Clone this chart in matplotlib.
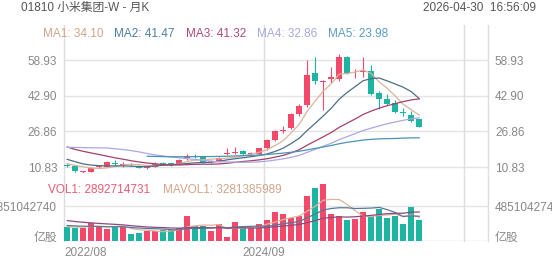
import numpy as np
import pandas as pd
import matplotlib
matplotlib.use("Agg")
import matplotlib.pyplot as plt

plt.rcParams['font.family'] = ['Liberation Sans', 'Noto Sans CJK SC', 'DejaVu Sans']

# monthly candles 2022/08 .. 2026/04
opens = [11.9, 11.3, 8.5, 8.8, 10.7, 11.0, 12.6, 11.9, 12.2, 11.3,
         10.4, 10.9, 12.4, 12.3, 12.2, 15.0, 15.9, 15.5, 13.0, 13.5,
         16.8, 17.1, 18.0, 16.6, 16.9, 19.3, 22.9, 27.2, 28.5, 34.6,
         38.7, 53.0, 49.2, 50.5, 50.5, 60.5, 52.9, 53.4, 54.2, 43.9,
         41.4, 39.5, 35.6, 34.2, 32.3]
highs = [12.6, 11.6, 9.2, 11.0, 11.6, 13.5, 13.9, 12.9, 12.6, 11.9,
         11.4, 12.9, 13.0, 12.7, 14.5, 16.7, 16.6, 15.8, 14.1, 15.3,
         19.2, 20.0, 18.5, 17.6, 19.6, 23.5, 27.5, 29.2, 35.0, 39.0,
         58.9, 60.4, 49.9, 55.9, 61.5, 60.9, 54.9, 60.4, 56.5, 44.8,
         43.5, 41.0, 37.2, 36.0, 32.6]
lows = [11.0, 8.7, 8.28, 8.6, 10.2, 10.8, 11.1, 11.0, 11.3, 10.3,
        10.1, 10.8, 11.7, 11.5, 11.9, 14.0, 14.8, 12.5, 12.6, 13.2,
        16.3, 16.5, 16.2, 15.9, 16.4, 18.5, 22.4, 26.3, 28.0, 33.8,
        38.0, 48.3, 36.4, 48.7, 49.5, 52.5, 51.0, 51.4, 43.0, 37.0,
        38.7, 35.0, 33.9, 31.2, 29.0]
closes = [11.3, 8.9, 8.8, 10.6, 11.2, 12.9, 12.0, 12.1, 11.9, 10.6,
          10.9, 12.3, 12.2, 12.2, 14.1, 15.6, 15.6, 13.0, 13.5, 14.9,
          17.2, 17.4, 16.6, 16.9, 19.3, 22.9, 26.8, 27.6, 34.6, 38.3,
          52.2, 49.6, 49.7, 51.3, 60.2, 53.3, 53.3, 53.9, 43.6, 41.2,
          39.3, 35.7, 35.3, 31.5, 29.0]
# volume, billions of shares
volumes_b = [1.98, 1.80, 1.84, 2.49, 2.08, 1.66, 1.98, 1.98, 1.01, 1.15,
             1.39, 1.39, 1.52, 1.52, 1.84, 3.47, 2.12, 2.12, 1.39, 2.31,
             0.55, 2.67, 1.98, 1.84, 2.36, 2.91, 4.06, 3.70, 3.15, 3.51,
             6.28, 7.39, 7.86, 3.78, 3.47, 2.87, 3.01, 3.98, 3.51, 4.44,
             3.15, 3.50, 2.30, 4.65, 2.892714731]

# earlier history, only feeds the moving averages (2018/07 .. 2022/07)
prior_closes = [18.6, 16.4, 15.6, 13.4, 14.3, 13.0,
                12.5, 12.9, 11.4, 11.5, 10.0, 9.9, 9.4, 8.4, 8.8, 8.6, 8.5, 10.8,
                12.9, 13.3, 10.2, 11.5, 12.2, 12.8, 14.3, 23.6, 22.0, 26.0, 28.0, 33.2,
                31.0, 25.5, 25.5, 25.5, 27.5, 27.0, 24.5, 25.5, 21.5, 20.3, 19.5, 18.9,
                15.8, 13.8, 13.6, 12.4, 11.7, 13.6, 12.3]
prior_volumes_b = [4.5, 3.8, 4.2, 3.6, 3.0, 3.2, 3.4, 3.3, 3.0, 3.1,
                   2.4, 2.2, 2.6, 2.3, 2.1, 2.0, 1.9, 2.1, 1.9]

price_ticks = [10.83, 26.86, 42.90, 58.93]
vol_tick = 4851042740
x_labels = ['2022/08', '2024/09']
x_label_pos = [0, 25]

ma_periods = [5, 10, 20, 30, 60]
ma_names = ['MA1', 'MA2', 'MA3', 'MA4', 'MA5']
ma_values = ['34.10', '41.47', '41.32', '32.86', '23.98']
ma_colors = ['#dcb39b', '#4d6e86', '#a63f6c', '#aaa7e4', '#4b93b4']
ma_text_colors = ['#d2a488', '#4f7fa0', '#b04a7f', '#a8a8e0', '#5a9cc4']
vol_ma_periods = [5, 10, 20]
vol_ma_colors = ['#dcb39b', '#58789a', '#8c4a7e']

up_color = '#f2496b'
down_color = '#1db4a2'
grid_color = '#e4e4e4'
tick_color = '#888888'

n = len(closes)
x = np.arange(n) + 0.4
colors = [up_color if c >= o else down_color for o, c in zip(opens, closes)]

fig = plt.figure(figsize=(5.52, 2.65), dpi=100)
ax = fig.add_axes([64 / 552, 92 / 265, 424 / 552, 148 / 265])
axv = fig.add_axes([64 / 552, 24 / 265, 424 / 552, 66 / 265])

# candles
o = np.array(opens); c = np.array(closes)
body_lo = np.minimum(o, c)
body_h = np.maximum(np.abs(c - o), 0.35)
ax.vlines(x, lows, highs, colors=colors, linewidth=0.8, zorder=3)
ax.bar(x, body_h, bottom=body_lo, width=0.72, color=colors, zorder=4)

all_closes = pd.Series(prior_closes + closes)
for p, col in zip(ma_periods, ma_colors):
    ma = all_closes.rolling(p).mean().values[-n:]
    ax.plot(x, ma, color=col, linewidth=0.9, zorder=5)

ax.set_xlim(0, 53)
ax.set_ylim(8.15, 74.66)
ax.set_yticks(price_ticks)
ax.set_yticklabels([f'{v:.2f}' for v in price_ticks])
ax.tick_params(axis='y', length=0, labelsize=8.5, labelcolor=tick_color,
               labelleft=True, labelright=True, pad=5)
ax.set_xticks([])
for v in price_ticks:
    ax.axhline(v, color=grid_color, linewidth=1.0, zorder=1)
for s in ax.spines.values():
    s.set_visible(False)

# MA legend
xpos = 43
for name, val, tc in zip(ma_names, ma_values, ma_text_colors):
    t = fig.text(xpos / 552, 1 - 34 / 265, f'{name}: {val}', color=tc,
                 fontsize=8.5, va='center', ha='left')
    fig.canvas.draw()
    bb = t.get_window_extent()
    xpos = bb.x1 + 11

# volume
vols = np.array(volumes_b) * 1e9
axv.bar(x, vols, width=0.72, color=colors, zorder=3)
all_vols = pd.Series(prior_volumes_b + volumes_b) * 1e9
for p, col in zip(vol_ma_periods, vol_ma_colors):
    vm = all_vols.rolling(p).mean().values[-n:]
    axv.plot(x, vm, color=col, linewidth=0.9, zorder=4)
axv.set_xlim(0, 53)
axv.set_ylim(0, 9.15e9)
axv.set_yticks([0.69e9, vol_tick])
axv.set_yticklabels(['亿股', str(vol_tick)])
axv.tick_params(axis='y', length=0, labelsize=8.5, labelcolor=tick_color,
                labelleft=True, labelright=True, pad=5)
axv.axhline(vol_tick, color=grid_color, linewidth=1.0, zorder=1)
axv.axhline(0, color='#d8d8d8', linewidth=1.0, zorder=1)
axv.set_xticks(x_label_pos)
axv.set_xticklabels(x_labels)
axv.tick_params(axis='x', length=0, labelsize=8.5, labelcolor=tick_color, pad=4)
axv.get_xticklabels()[0].set_horizontalalignment('left')
for s in axv.spines.values():
    s.set_visible(False)

for a in (ax, axv):
    for xv in (0, 25, 50, 53):
        a.axvline(xv, color='#dddddd', linewidth=1.0, zorder=1, clip_on=False)

fig.text(48 / 552, 1 - 190 / 265, 'VOL1: 2892714731', color='#ea5a72',
         fontsize=8.5, va='center')
fig.text(163 / 552, 1 - 190 / 265, 'MAVOL1: 3281385989', color='#d2a488',
         fontsize=8.5, va='center')

fig.text(21 / 552, 1 - 8 / 265, '01810 小米集团-W - 月K', color='#555555',
         fontsize=8.5, va='center')
fig.text(536 / 552, 1 - 8 / 265, '2026-04-30  16:56:09', color='#555555',
         fontsize=8.5, va='center', ha='right')

fig.savefig('out.png', dpi=100)
